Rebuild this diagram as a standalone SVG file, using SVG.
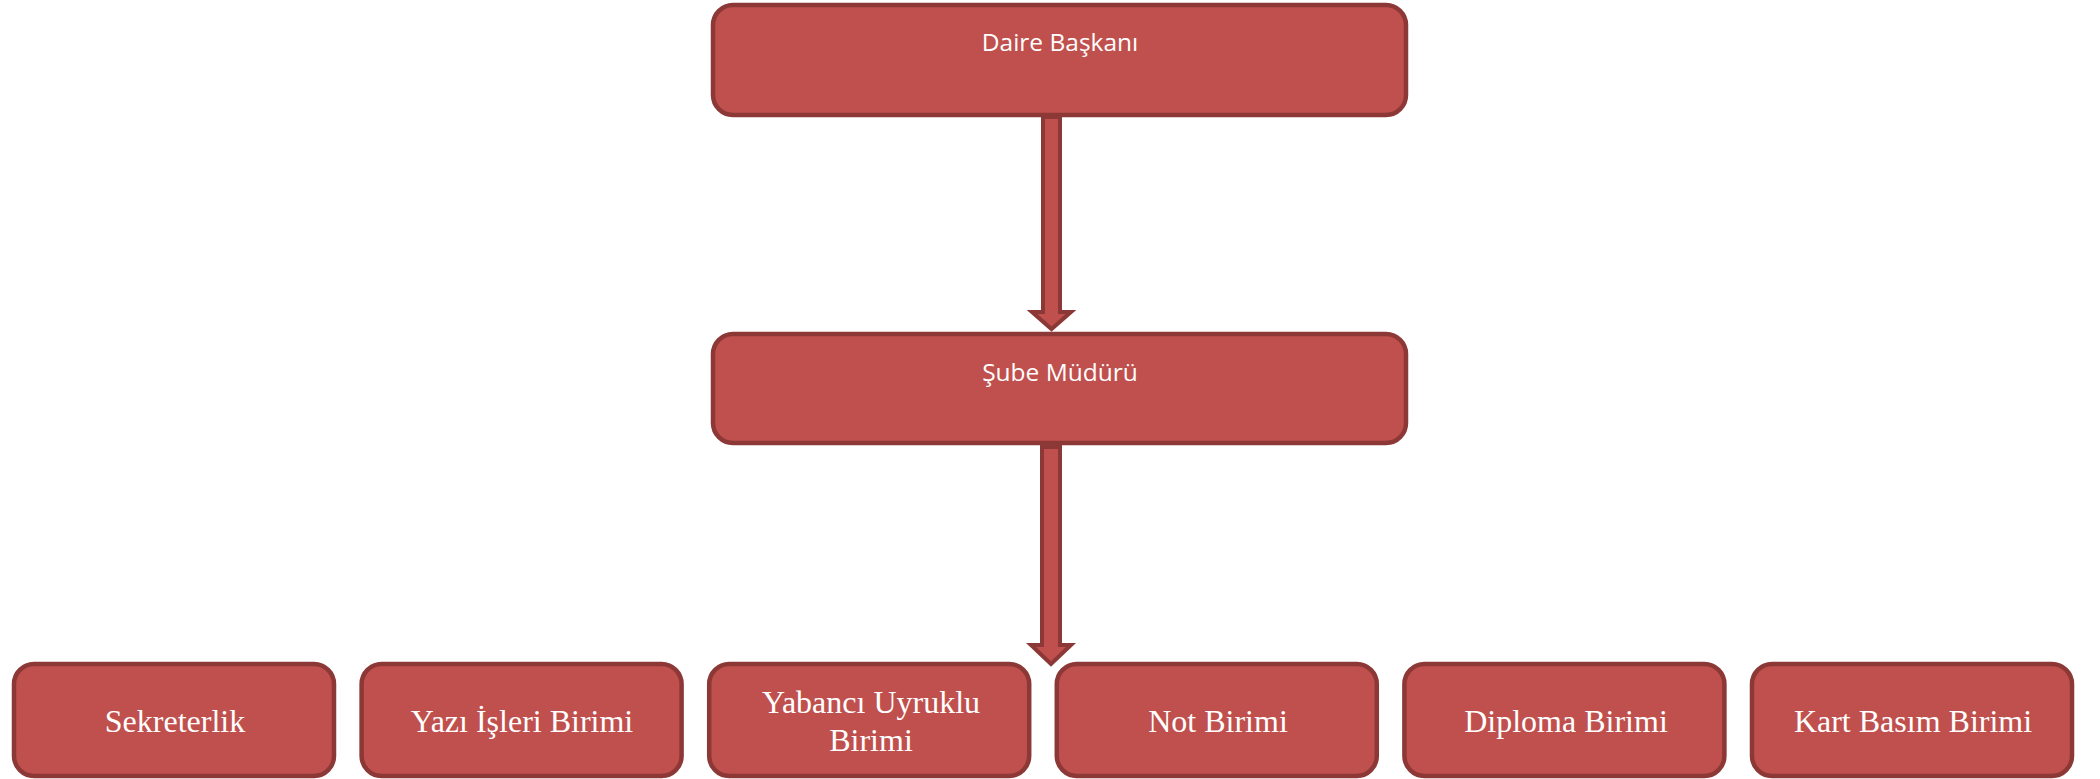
<svg xmlns="http://www.w3.org/2000/svg" width="2100" height="779" viewBox="0 0 2100 779">
<style>
.box{fill:#C0504D;stroke:#8C3836;stroke-width:4.5}
.arr{fill:#C0504D;stroke:#8C3836;stroke-width:4;stroke-linejoin:miter}
.ts{font-family:"Open Sans","Noto Sans",sans-serif;font-size:24.5px;fill:#FFFFFF;text-anchor:middle}
.tr{font-family:"Liberation Serif","Times New Roman",serif;font-size:32px;fill:#FFFFFF;text-anchor:middle}
</style>
<rect width="2100" height="779" fill="#FFFFFF"/>
<g id="daire-baskani">
<rect class="box" x="713" y="5" width="693" height="110" rx="20"/>
<text class="ts" x="1060" y="51">Daire Başkanı</text>
</g>
<g id="sube-muduru">
<rect class="box" x="713" y="334" width="693" height="109" rx="20"/>
<text class="ts" x="1060" y="381">Şube Müdürü</text>
</g>
<g id="sekreterlik">
<rect class="box" x="14" y="664" width="320" height="112" rx="20"/>
<text class="tr" x="175" y="732">Sekreterlik</text>
</g>
<g id="yazi-isleri">
<rect class="box" x="361.6" y="664" width="320" height="112" rx="20"/>
<text class="tr" x="522" y="732">Yazı İşleri Birimi</text>
</g>
<g id="yabanci-uyruklu">
<rect class="box" x="709.2" y="664" width="320" height="112" rx="20"/>
<text class="tr" x="871" y="713">Yabancı Uyruklu</text>
<text class="tr" x="871" y="751">Birimi</text>
</g>
<g id="not-birimi">
<rect class="box" x="1056.8" y="664" width="320" height="112" rx="20"/>
<text class="tr" x="1218" y="732">Not Birimi</text>
</g>
<g id="diploma-birimi">
<rect class="box" x="1404.4" y="664" width="320" height="112" rx="20"/>
<text class="tr" x="1566" y="732">Diploma Birimi</text>
</g>
<g id="kart-basim">
<rect class="box" x="1752" y="664" width="320" height="112" rx="20"/>
<text class="tr" x="1913" y="732">Kart Basım Birimi</text>
</g>
<g id="connectors">
<path class="arr" d="M1043,117 L1060,117 L1060,312 L1071,312 L1051.5,329 L1032,312 L1043,312 Z"/>
<path class="arr" d="M1042,447 L1060,447 L1060,645 L1071,645 L1051,664 L1031,645 L1042,645 Z"/>
</g>
</svg>
